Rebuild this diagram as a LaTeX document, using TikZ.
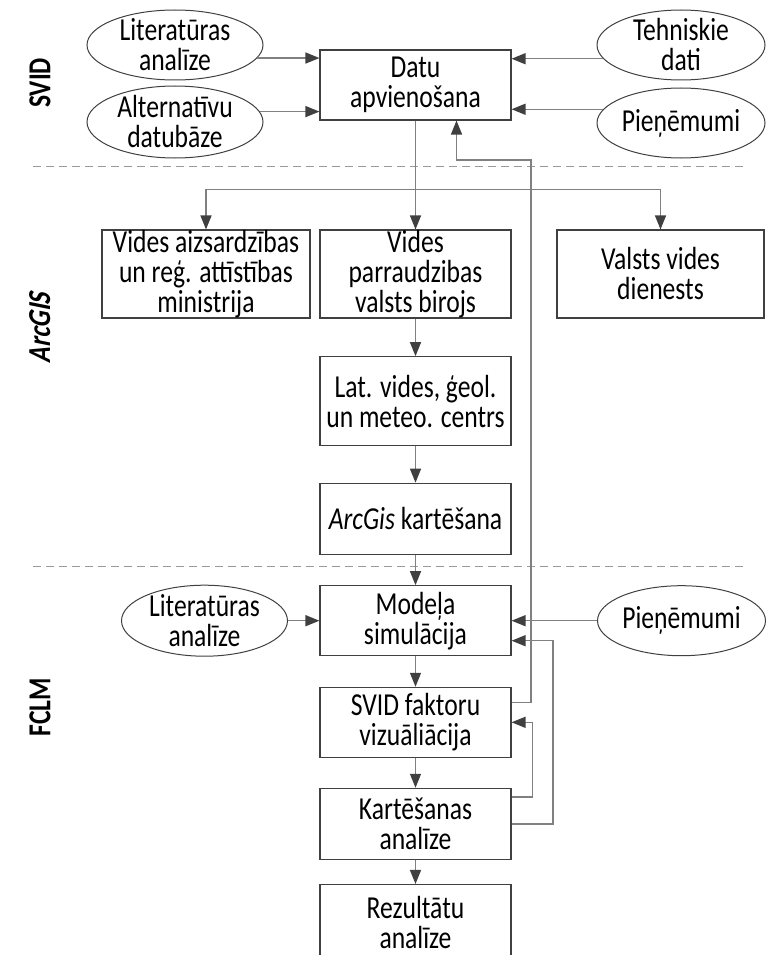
\documentclass[tikz,border=0pt]{standalone}
\usepackage{fontspec}
\setmainfont{Carlito}[FakeStretch=0.8]
\newfontfamily\arcgisfont{Carlito}[FakeStretch=0.8,UprightFeatures={FakeSlant=0.2},BoldFeatures={FakeSlant=0.2}]
\usetikzlibrary{shapes.geometric,arrows.meta}
\begin{document}
\begin{tikzpicture}[x=1pt,y=-1pt,
  font=\fontsize{32}{30}\selectfont,
  box/.style={draw=black!75,line width=1.1pt,minimum width=191pt,minimum height=70pt,inner sep=0pt,align=center},
  oval/.style={draw=black!75,line width=1pt,ellipse,inner sep=0pt,minimum width=176pt,minimum height=70pt},
  conn/.style={draw=black!50,line width=1.4pt},
  arr/.style={conn,-{Triangle[length=14pt,width=11pt,color=black!75]}},
  sepline/.style={draw=black!40,line width=1pt,dash pattern=on 8pt off 5pt},
  side/.style={rotate=90,font=\fontsize{32}{30}\selectfont\bfseries}]

\useasboundingbox (0,0) rectangle (766,955);

% side labels
\node[side] (lsvid) at (40,83) {SVID};
\node[side,font=\fontsize{32}{30}\arcgisfont\bfseries] (larc) at (40,328) {ArcGIS};
\node[side] (lfclm) at (40,707) {FCLM};

% separators
\coordinate (s1a) at (33,166.7);
\coordinate (s1b) at (745,166.7);
\coordinate (s2a) at (33,566.7);
\coordinate (s2b) at (745,566.7);
\draw[sepline] (s1a) -- (s1b);
\draw[sepline] (s2a) -- (s2b);

% SVID section
\node[box] (datu) at (415.5,85) {Datu\\apvienošana};
\node[oval,label={[align=center]center:Literatūras\\analīze}] (lit1) at (175,45) {};
\node[oval,minimum height=72pt,label={[align=center]center:Alternatīvu\\datubāze}] (alt) at (175,122) {};
\node[oval,minimum width=168pt,label={[align=center]center:Tehniskie\\dati}] (tehn) at (681,45) {};
\node[oval,minimum width=168pt,label={[align=center]center:Pieņēmumi}] (pien) at (681,123) {};

\draw[arr] (lit1.-9) -- (lit1.-9 -| datu.west);
\draw[arr] (alt.7.7) -- (alt.7.7 -| datu.west);
\draw[arr] (tehn.-170.8) -- (tehn.-170.8 -| datu.east);
\draw[arr] (pien.170.5) -- (pien.170.5 -| datu.east);

% ArcGIS section
\node[box,minimum width=208pt,minimum height=88pt] (vaid) at (206,274) {Vides aizsardzības\\un reģ. attīstības\\ministrija};
\node[box,minimum height=88pt] (vpb) at (415.5,274) {Vides\\parraudzibas\\valsts birojs};
\node[box,minimum width=207pt,minimum height=88pt] (vdd) at (660.5,274) {Valsts vides\\dienests};
\node[box,minimum height=89pt] (lat) at (415.5,401.2) {Lat. vides, ģeol.\\un meteo. centrs};
\node[box,minimum height=71pt] (arc) at (415.5,518.7) {\textit{ArcGis} kartēšana};

\coordinate (split) at (415.5,189.3);
\draw[arr] (datu.south) -- (vpb.north);
\draw[conn] (split -| vaid.north) -- (split -| vdd.north);
\draw[arr] (split -| vaid.north) -- (vaid.north);
\draw[arr] (split -| vdd.north) -- (vdd.north);
\draw[arr] (vpb.south) -- (lat.north);
\draw[arr] (lat.south) -- (arc.north);

% FCLM section
\node[box] (mod) at (415.5,620.7) {Modeļa\\simulācija};
\node[box] (svf) at (415.5,722.3) {SVID faktoru\\vizuāliācija};
\node[box,minimum height=71pt] (kart) at (415.5,823.8) {Kartēšanas\\analīze};
\node[box,minimum height=75pt] (rez) at (415.5,922) {Rezultātu\\analīze};
\node[oval,minimum width=166pt,minimum height=71pt,label={[align=center]center:Literatūras\\analīze}] (lit2) at (204.5,620.7) {};
\node[oval,minimum width=168pt,label={[align=center]center:Pieņēmumi}] (pien2) at (681.5,620.7) {};

\draw[arr] (arc.south) -- (mod.north);
\draw[arr] (mod.south) -- (svf.north);
\draw[arr] (svf.south) -- (kart.north);
\draw[arr] (kart.south) -- (rez.north);
\draw[arr] (lit2.east) -- (mod.west);
\draw[arr] (pien2.west) -- (mod.east);

% feedback loops
\coordinate (loopA) at (531,160);
\draw[arr] ([yshift=20pt]svf.east) -| (loopA) -| ([xshift=41pt]datu.south);
\draw[arr] ([yshift=27pt]kart.east) -- ++(21,0) |- (svf.east);
\draw[arr] (kart.east) -- ++(41.5,0) |- ([yshift=-20pt]mod.east);

\end{tikzpicture}
\end{document}
